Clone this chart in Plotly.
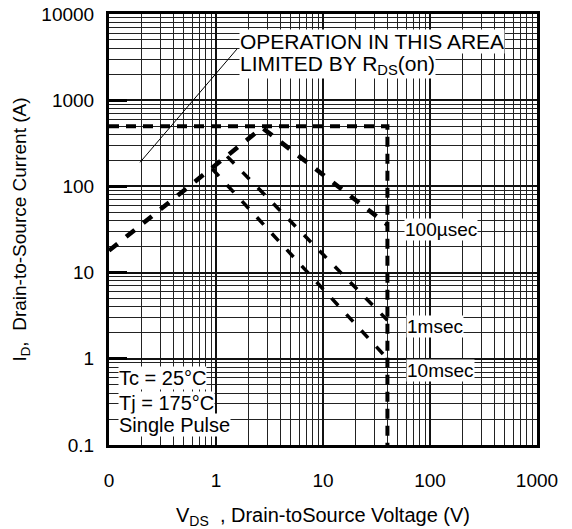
import plotly.graph_objects as go

# ---- data ----
# shared Rds(on)-limited rise + 100 µs segment
vds_100us = [0.1, 2.7, 40]
id_100us = [18, 480, 36]
# 1 ms segment (from its peak on the rising line)
vds_1ms = [1.27, 40]
id_1ms = [223, 2.8]
# 10 ms segment
vds_10ms = [0.92, 40]
id_10ms = [160, 1.0]
# package / breakdown limits
vds_limit = [0.1, 40, 40]
id_limit = [500, 500, 0.1]
# leader line of the "OPERATION IN THIS AREA" note
vds_leader = [0.195, 1.57]
id_leader = [190, 3920]

x_tickvals = [0.1, 1, 10, 100, 1000]
x_ticktext = ["0", "1", "10", "100", "1000"]
y_tickvals = [0.1, 1, 10, 100, 1000, 10000]
y_ticktext = ["0.1", "1", "10", "100", "1000", "10000"]

FONT = "Liberation Sans, Arial, sans-serif"

fig = go.Figure()
fig.add_trace(go.Scatter(x=vds_limit, y=id_limit, mode="lines",
                         line=dict(color="black", width=4, dash="10px,7px")))
fig.add_trace(go.Scatter(x=vds_100us, y=id_100us, mode="lines",
                         line=dict(color="black", width=4.5, dash="11px,11px")))
fig.add_trace(go.Scatter(x=vds_1ms, y=id_1ms, mode="lines",
                         line=dict(color="black", width=3.5, dash="10px,12px")))
fig.add_trace(go.Scatter(x=vds_10ms, y=id_10ms, mode="lines",
                         line=dict(color="black", width=3.5, dash="10px,12px")))
fig.add_trace(go.Scatter(x=vds_leader, y=id_leader, mode="lines",
                         line=dict(color="black", width=1)))

common_axis = dict(
    type="log", showline=True, linecolor="black", linewidth=3, mirror=True,
    showgrid=True, gridcolor="#111", gridwidth=1.5, zeroline=False,
    automargin=False,
    tickfont=dict(family=FONT, size=19, color="black"),
)

fig.update_xaxes(
    **common_axis, range=[-1, 3], tickvals=x_tickvals, ticktext=x_ticktext,
    ticks="", ticklabelstandoff=16,
    minor=dict(dtick="D1", showgrid=True, gridcolor="#222", gridwidth=1, ticks=""),
    title=dict(text="V<sub>DS</sub>  , Drain-toSource Voltage (V)",
               font=dict(family=FONT, size=20, color="black"), standoff=22),
)
fig.update_yaxes(
    **common_axis, range=[-1, 4], tickvals=y_tickvals, ticktext=y_ticktext,
    ticks="inside", ticklen=18, tickwidth=3, tickcolor="black", ticklabelstandoff=8,
    minor=dict(dtick="D1", showgrid=True, gridcolor="#222", gridwidth=1, ticks=""),
    title=dict(text="I<sub>D</sub>,  Drain-to-Source Current (A)",
               font=dict(family=FONT, size=19, color="black"), standoff=10),
)

def note(text, x, y, size=20):
    fig.add_annotation(text=text, xref="paper", yref="paper", x=x, y=y,
                       xanchor="left", yanchor="middle", showarrow=False,
                       bgcolor="white", borderpad=0,
                       font=dict(family=FONT, size=size, color="black"))

note("OPERATION IN THIS AREA", 0.304, 0.937, 21)
note("LIMITED BY R<sub>DS</sub>(on)", 0.304, 0.882, 21)
note("100µsec", 0.69, 0.501, 19)
note("1msec", 0.694, 0.276, 19)
note("10msec", 0.694, 0.172, 19)
note("Tc = 25°C", 0.02, 0.155, 20)
note("Tj = 175°C", 0.02, 0.097, 20)
note("Single Pulse", 0.02, 0.046, 20)

fig.update_layout(
    width=572, height=529, showlegend=False,
    margin=dict(l=109, r=35, t=14, b=84, autoexpand=False),
    paper_bgcolor="white", plot_bgcolor="white",
    font=dict(family=FONT, color="black"),
)

fig.write_html("out.html")
